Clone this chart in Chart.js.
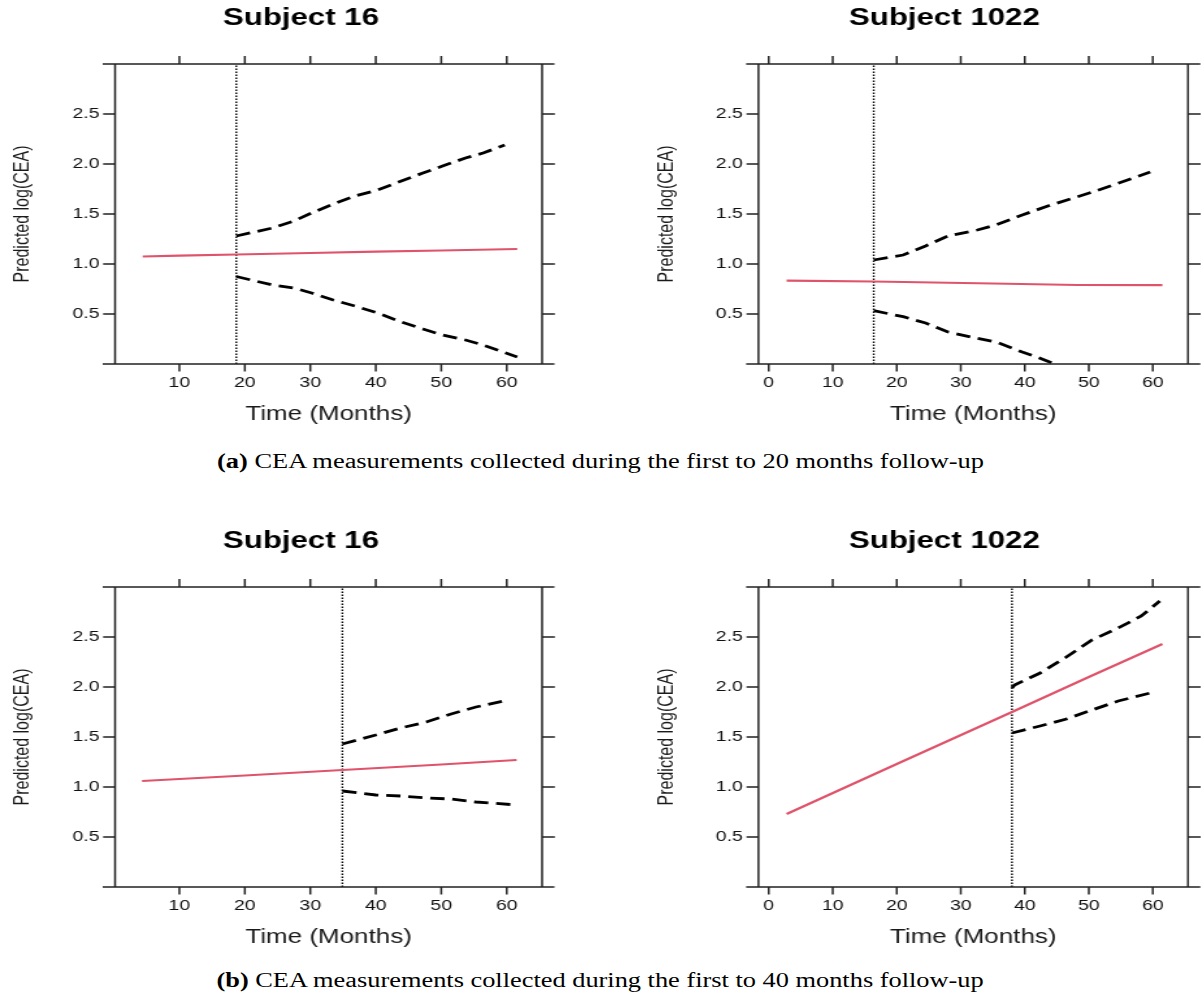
<!DOCTYPE html>
<html>
<head>
<meta charset="utf-8">
<script src="https://cdn.jsdelivr.net/npm/chart.js@4.4.1/dist/chart.umd.min.js"></script>
<style>
  html, body { margin: 0; padding: 0; background: #fff; }
  body { width: 1201px; height: 997px; position: relative; overflow: hidden; }
  .panel { position: absolute; transform: scaleX(1.3); transform-origin: 0 0; }
  .caption { position: absolute; left: 0; width: 1201px; text-align: center; font-family: "Liberation Serif", "Times New Roman", serif; font-size: 20px; line-height: 24px; color: #000; white-space: nowrap; }
  .caption .inner { display: inline-block; transform-origin: 50% 50%; }
</style>
</head>
<body>
<div class="panel" style="left:0px;top:0px"><canvas id="a16" width="462" height="440"></canvas></div>
<div class="panel" style="left:600px;top:0px"><canvas id="a1022" width="463" height="440"></canvas></div>
<div class="caption" style="top:449px"><span class="inner"><b>(a)</b> CEA measurements collected during the first to 20 months follow-up</span></div>
<div class="panel" style="left:0px;top:520px"><canvas id="b16" width="462" height="440"></canvas></div>
<div class="panel" style="left:600px;top:520px"><canvas id="b1022" width="463" height="440"></canvas></div>
<div class="caption" style="top:968px"><span class="inner"><b>(b)</b> CEA measurements collected during the first to 40 months follow-up</span></div>
<script>
// tick values
const xTicksFrom10 = [10, 20, 30, 40, 50, 60];
const xTicksFrom0 = [0, 10, 20, 30, 40, 50, 60];
const yTicks = [0.5, 1.0, 1.5, 2.0, 2.5];

// (a) subject 16, data up to ~18.7 months
const a16Cut = 18.7;
const a16FitT = [4.4, 10, 18.7, 30, 40, 50, 61.6];
const a16Fit = [1.075, 1.083, 1.095, 1.11, 1.123, 1.135, 1.15];
const a16UpT = [18.7, 24.2, 27.5, 30.2, 33.5, 36.8, 40.3, 43.9, 47.2, 50.2, 53.7, 56.4, 59.7];
const a16Up = [1.28, 1.36, 1.43, 1.51, 1.60, 1.68, 1.74, 1.83, 1.91, 1.98, 2.06, 2.11, 2.19];
const a16LoT = [18.7, 24.2, 27.5, 30.2, 33.5, 36.8, 40.3, 43.9, 47.2, 50.2, 53.7, 56.4, 61.6];
const a16Lo = [0.875, 0.79, 0.76, 0.71, 0.64, 0.58, 0.51, 0.42, 0.35, 0.29, 0.24, 0.19, 0.07];

// (a) subject 1022, data up to ~16.4 months
const a1022Cut = 16.4;
const a1022FitT = [2.8, 16.4, 35, 48.3, 61.5];
const a1022Fit = [0.834, 0.825, 0.805, 0.79, 0.788];
const a1022UpT = [16.4, 21, 24.5, 28, 32.6, 35.5, 39.6, 43.6, 47.1, 50.6, 54.7, 59.6];
const a1022Up = [1.04, 1.09, 1.18, 1.28, 1.34, 1.39, 1.49, 1.58, 1.65, 1.72, 1.81, 1.92];
const a1022LoT = [16.4, 21, 24.5, 28, 32.6, 35.5, 39.6, 41.9, 45.5];
const a1022Lo = [0.533, 0.473, 0.41, 0.32, 0.256, 0.22, 0.12, 0.07, -0.02];

// (b) subject 16, data up to ~34.9 months
const b16Cut = 34.9;
const b16FitT = [4.3, 20, 34.9, 50, 61.5];
const b16Fit = [1.06, 1.115, 1.17, 1.225, 1.27];
const b16UpT = [34.9, 40, 43.8, 47.7, 51.5, 55.3, 60.3];
const b16Up = [1.43, 1.52, 1.59, 1.65, 1.73, 1.80, 1.87];
const b16LoT = [34.9, 40, 43.8, 47.7, 51.5, 55.3, 61.6];
const b16Lo = [0.96, 0.92, 0.91, 0.89, 0.88, 0.85, 0.82];

// (b) subject 1022, data up to ~38 months
const b1022Cut = 38;
const b1022FitT = [2.8, 20, 38, 50, 61.5];
const b1022Fit = [0.73, 1.23, 1.75, 2.1, 2.43];
const b1022UpT = [38, 38.4, 42.4, 46.5, 50.5, 54.6, 58.2, 61.1];
const b1022Up = [1.99, 2.02, 2.14, 2.30, 2.47, 2.59, 2.71, 2.86];
const b1022LoT = [38, 42.4, 46.5, 50.5, 54.6, 59.6];
const b1022Lo = [1.54, 1.61, 1.68, 1.77, 1.86, 1.94];

const RED = "#DF536B";
const FONT = '"Liberation Sans", Arial, sans-serif';

const pts = (ts, vs) => ts.map((t, i) => ({ x: t, y: vs[i] }));

// lattice style box: frame, ticks on all four sides, titles
const latticeFrame = {
  id: "latticeFrame",
  afterDraw(chart, args, opts) {
    const { ctx, chartArea: { left, right, top, bottom }, scales: { x, y } } = chart;
    ctx.save();
    ctx.strokeStyle = "#222";
    ctx.lineWidth = 1.3;
    ctx.beginPath();
    ctx.moveTo(left - 9.5, top); ctx.lineTo(right + 9.5, top);
    ctx.moveTo(left - 9.5, bottom); ctx.lineTo(right + 9.5, bottom);
    y.ticks.forEach((t) => {
      const py = y.getPixelForValue(t.value);
      ctx.moveTo(left - 9.2, py); ctx.lineTo(left, py);
      ctx.moveTo(right, py); ctx.lineTo(right + 9.8, py);
    });
    ctx.stroke();
    ctx.lineWidth = 1.5;
    ctx.beginPath();
    ctx.moveTo(left, top); ctx.lineTo(left, bottom);
    ctx.moveTo(right, top); ctx.lineTo(right, bottom);
    x.ticks.forEach((t) => {
      const px = x.getPixelForValue(t.value);
      ctx.moveTo(px, bottom); ctx.lineTo(px, bottom + 7.5);
      ctx.moveTo(px, top); ctx.lineTo(px, top - 8);
    });
    ctx.stroke();

    ctx.fillStyle = "#000";
    ctx.textAlign = "center";
    ctx.textBaseline = "middle";
    ctx.font = "bold 24px " + FONT;
    ctx.fillText(opts.title, left + 143, top - 46);
    ctx.fillStyle = "#1a1a1a";
    ctx.font = "20px " + FONT;
    ctx.fillText("Time (Months)", (left + right) / 2, bottom + 50);
    ctx.translate(left - 70.6, (top + bottom) / 2);
    ctx.rotate(-Math.PI / 2);
    ctx.font = "16px " + FONT;
    ctx.fillText("Predicted log(CEA)", 0, 0);
    ctx.restore();
  }
};

const makePanel = (p) => {
  new Chart(document.getElementById(p.id), {
    type: "line",
    data: {
      datasets: [
        { data: pts(p.fitT, p.fit), borderColor: RED, borderWidth: 2.2 },
        { data: pts(p.upT, p.up), borderColor: "#000", borderWidth: 2.8, borderDash: [11, 6] },
        { data: pts(p.loT, p.lo), borderColor: "#000", borderWidth: 2.8, borderDash: [11, 6] },
        { data: pts([p.cut, p.cut], [0, 3]), borderColor: "#000", borderWidth: 1.4, borderDash: [1.5, 1.5] }
      ]
    },
    options: {
      responsive: false,
      animation: false,
      datasets: { line: { pointRadius: 0, clip: 0, tension: 0 } },
      layout: { padding: { left: 0, right: p.w - p.chartRight, top: p.chartTop, bottom: 0 } },
      plugins: {
        legend: { display: false },
        tooltip: { enabled: false },
        latticeFrame: { title: p.title }
      },
      scales: {
        x: {
          type: "linear",
          min: p.xMin,
          max: p.xMax,
          afterBuildTicks: (s) => { s.ticks = p.xTicks.map((v) => ({ value: v })); },
          afterFit: (s) => { s.height = p.h - p.chartBottom; },
          grid: { display: false, drawTicks: false, tickLength: 0 },
          border: { display: false },
          ticks: { padding: 10, autoSkip: false, maxRotation: 0, color: "#111", font: { family: FONT, size: 15 } }
        },
        y: {
          min: 0,
          max: 3,
          afterBuildTicks: (s) => { s.ticks = yTicks.map((v) => ({ value: v })); },
          afterFit: (s) => { s.width = p.chartLeft; },
          grid: { display: false, drawTicks: false, tickLength: 0 },
          border: { display: false },
          ticks: { padding: 12, color: "#111", font: { family: FONT, size: 15 }, callback: (v) => Number(v).toFixed(1) }
        }
      }
    },
    plugins: [latticeFrame]
  });
};

const leftBox = { w: 462, h: 440, chartLeft: 88.5, chartRight: 417, xMin: 0.18, xMax: 65.4, xTicks: xTicksFrom10 };
const rightBox = { w: 463, h: 440, chartLeft: 121.9, chartRight: 452.3, xMin: -1.6, xMax: 65.5, xTicks: xTicksFrom0 };

makePanel(Object.assign({}, leftBox, { id: "a16", title: "Subject 16", chartTop: 64, chartBottom: 364,
  cut: a16Cut, fitT: a16FitT, fit: a16Fit, upT: a16UpT, up: a16Up, loT: a16LoT, lo: a16Lo }));
makePanel(Object.assign({}, rightBox, { id: "a1022", title: "Subject 1022", chartTop: 64, chartBottom: 364,
  cut: a1022Cut, fitT: a1022FitT, fit: a1022Fit, upT: a1022UpT, up: a1022Up, loT: a1022LoT, lo: a1022Lo }));
makePanel(Object.assign({}, leftBox, { id: "b16", title: "Subject 16", chartTop: 67, chartBottom: 367,
  cut: b16Cut, fitT: b16FitT, fit: b16Fit, upT: b16UpT, up: b16Up, loT: b16LoT, lo: b16Lo }));
makePanel(Object.assign({}, rightBox, { id: "b1022", title: "Subject 1022", chartTop: 67, chartBottom: 367,
  cut: b1022Cut, fitT: b1022FitT, fit: b1022Fit, upT: b1022UpT, up: b1022Up, loT: b1022LoT, lo: b1022Lo }));

// captions are wider than the plain serif; stretch to the reference width
document.querySelectorAll(".caption .inner").forEach((el) => {
  el.style.transform = "scaleX(" + (767 / el.offsetWidth).toFixed(3) + ")";
});
</script>
</body>
</html>
